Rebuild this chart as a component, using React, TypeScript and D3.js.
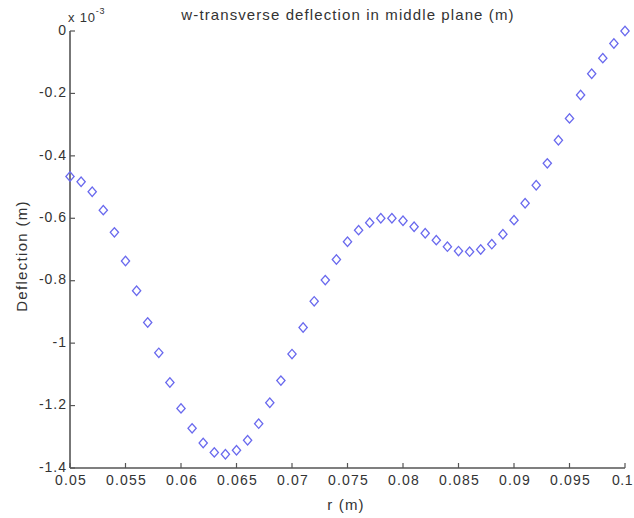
import * as d3 from "d3";

// r (m), one sample every 1 mm
const radius = [
  0.05, 0.051, 0.052, 0.053, 0.054, 0.055, 0.056, 0.057, 0.058, 0.059,
  0.06, 0.061, 0.062, 0.063, 0.064, 0.065, 0.066, 0.067, 0.068, 0.069,
  0.07, 0.071, 0.072, 0.073, 0.074, 0.075, 0.076, 0.077, 0.078, 0.079,
  0.08, 0.081, 0.082, 0.083, 0.084, 0.085, 0.086, 0.087, 0.088, 0.089,
  0.09, 0.091, 0.092, 0.093, 0.094, 0.095, 0.096, 0.097, 0.098, 0.099, 0.1,
];

// deflection, x 1e-3 m
const deflection = [
  -0.466, -0.483, -0.515, -0.574, -0.645, -0.737, -0.832, -0.934, -1.031, -1.126,
  -1.209, -1.273, -1.32, -1.35, -1.356, -1.343, -1.311, -1.258, -1.191, -1.12,
  -1.035, -0.95, -0.866, -0.798, -0.732, -0.675, -0.638, -0.614, -0.6, -0.6,
  -0.608, -0.627, -0.648, -0.67, -0.691, -0.705, -0.707, -0.7, -0.683, -0.651,
  -0.606, -0.552, -0.494, -0.424, -0.35, -0.28, -0.205, -0.137, -0.087, -0.04, 0,
];

const xTicks = [0.05, 0.055, 0.06, 0.065, 0.07, 0.075, 0.08, 0.085, 0.09, 0.095, 0.1];
const yTicks = [0, -0.2, -0.4, -0.6, -0.8, -1, -1.2, -1.4];

const W = 634;
const H = 518;
const left = 70;
const right = 625;
const top = 31;
const bottom = 468;

const font = "'Liberation Sans', Arial, sans-serif";
const axisColor = "#555";
const textColor = "#333";
const markerColor = "#6a6aee";

export default function App() {
  const x = d3.scaleLinear().domain([0.05, 0.1]).range([left, right]);
  const y = d3.scaleLinear().domain([-1.4, 0]).range([bottom, top]);

  // matlab-like diamond: a square turned 45 degrees, a bit narrower than tall
  const square = d3.symbol().type(d3.symbolSquare).size(44)();

  return (
    <svg
      width={W}
      height={H}
      style={{ position: "absolute", left: 0, top: 0, background: "#fff" }}
      fontFamily={font}
    >
      <rect width={W} height={H} fill="#fff" />

      {/* axes */}
      <line x1={left} y1={top} x2={left} y2={bottom} stroke={axisColor} strokeWidth={1.6} />
      <line x1={left} y1={bottom} x2={right} y2={bottom} stroke={axisColor} strokeWidth={1.6} />

      {yTicks.map((t) => (
        <g key={"y" + t}>
          <line x1={left} x2={left + 5} y1={y(t)} y2={y(t)} stroke={axisColor} strokeWidth={1.2} />
          <text
            x={left - 3}
            y={y(t)}
            textAnchor="end"
            dominantBaseline="middle"
            fontSize={14}
            letterSpacing={1}
            fill={textColor}
          >
            {t === 0 ? "0" : String(t)}
          </text>
        </g>
      ))}

      {xTicks.map((t, i) => {
        // last label sits on the page edge, keep it inside
        const last = i === xTicks.length - 1;
        return (
          <g key={"x" + t}>
            <line x1={x(t)} x2={x(t)} y1={bottom} y2={bottom - 5} stroke={axisColor} strokeWidth={1.2} />
            <text
              x={last ? W - 1 : x(t) + 1}
              y={bottom + 13}
              textAnchor={last ? "end" : "middle"}
              dominantBaseline="middle"
              fontSize={14}
              letterSpacing={last ? 0.5 : 1.2}
              fill={textColor}
            >
              {String(t)}
            </text>
          </g>
        );
      })}

      {/* exponent */}
      <text x={68} y={22} fontSize={13} letterSpacing={0.8} fill={textColor}>
        x 10
        <tspan dy={-8} fontSize={9}>-3</tspan>
      </text>

      <text x={348} y={20} textAnchor="middle" fontSize={15} letterSpacing={1.1} fill={textColor}>
        w-transverse deflection in middle plane (m)
      </text>

      <text x={346} y={510} textAnchor="middle" fontSize={15} letterSpacing={1.2} fill={textColor}>
        r (m)
      </text>

      <text
        transform={`translate(27, 256) rotate(-90)`}
        textAnchor="middle"
        fontSize={15}
        letterSpacing={1.3}
        fill={textColor}
      >
        Deflection (m)
      </text>

      {radius.map((r, i) => (
        <path
          key={i}
          d={square}
          transform={`translate(${x(r)}, ${y(deflection[i])}) scale(0.88, 1) rotate(45)`}
          fill="none"
          stroke={markerColor}
          strokeWidth={1.4}
        />
      ))}
    </svg>
  );
}
